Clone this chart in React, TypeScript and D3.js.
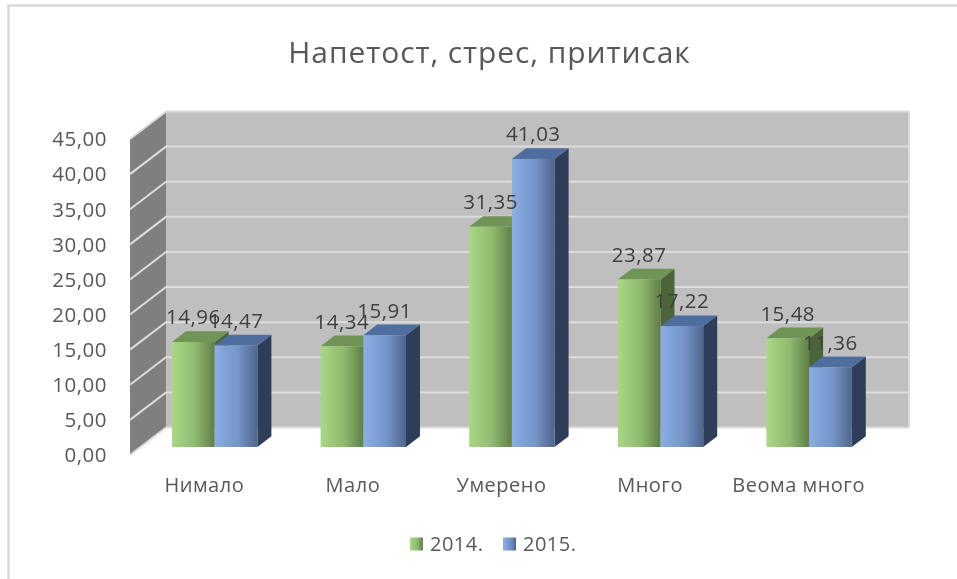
import React from "react";
import * as d3 from "d3";

const title = "Напетост, стрес, притисак";
const categories = ["Нимало", "Мало", "Умерено", "Много", "Веома много"];
const seriesNames = ["2014.", "2015."];
const values2014 = [14.96, 14.34, 31.35, 23.87, 15.48];
const values2015 = [14.47, 15.91, 41.03, 17.22, 11.36];
const yTicks = [0, 5, 10, 15, 20, 25, 30, 35, 40, 45];

const W = 957, H = 579;
const frontLeft = 130, frontRight = 873, frontBase = 455, frontTop = 139;
const wallDx = 36, wallDy = 27.5;
const barDx = 10.4, barDy = 8;
const depthDx = 14, depthDy = 10.7;
const FONT = "'Open Sans', 'Noto Sans', sans-serif";

const fmt = (v: number) => v.toFixed(2).replace(".", ",");
const line = d3.line<[number, number]>();
const poly = (pts: [number, number][]) => line(pts) + "Z";

const palette = [
  { id: "g", a: "#a9d884", b: "#5f7f47", top: "#6f9455", side: "#4b6539" },
  { id: "b", a: "#8aaee6", b: "#4e658f", top: "#4f6d9e", side: "#2f3e59" },
];

export default function App() {
  const x0 = d3.scaleBand<string>().domain(categories).range([frontLeft, frontRight]);
  const x1 = d3.scaleBand<string>().domain(seriesNames).range([0, x0.bandwidth()]).paddingInner(0).paddingOuter(0.74);
  const h = d3.scaleLinear().domain([0, 45]).range([0, frontBase - frontTop]);
  const series = [values2014, values2015];
  const bw = x1.bandwidth();
  const wallL = frontLeft + wallDx, wallR = frontRight + wallDx;
  const wallBase = frontBase - wallDy;
  const base = frontBase - barDy;

  return (
    <svg width={W} height={H} viewBox={`0 0 ${W} ${H}`} style={{ position: "absolute", left: 0, top: 0, display: "block", background: "#fff" }} fontFamily={FONT}>
      <defs>
        {palette.map((p) => (
          <linearGradient key={p.id} id={`grad-${p.id}`} x1="0" x2="1" y1="0" y2="0">
            <stop offset="0" stopColor={p.a} />
            <stop offset="0.55" stopColor={d3.interpolateRgb(p.a, p.b)(0.35)} />
            <stop offset="1" stopColor={p.b} />
          </linearGradient>
        ))}
        <filter id="soft" x="-2%" y="-2%" width="104%" height="104%">
          <feGaussianBlur stdDeviation="0.4" />
        </filter>
      </defs>
      <g filter="url(#soft)">
        <path d={`M8.5,579V5.5H957`} fill="none" stroke="#d9d9d9" strokeWidth={2.5} />
        <text x={489.5} y={52} dy="0.36em" textAnchor="middle" fontSize={30} fill="#595959" letterSpacing={0.9}>{title}</text>

        <rect x={wallL} y={frontTop - wallDy} width={wallR - wallL} height={frontBase - frontTop} fill="#bfbfbf" />
        <path d={poly([[frontLeft, frontTop], [wallL, frontTop - wallDy], [wallL, wallBase], [frontLeft, frontBase]])} fill="#7f7f7f" />
        {yTicks.map((t) => {
          const yf = frontBase - h(t);
          const yb = yf - wallDy;
          return (
            <g key={t}>
              <path d={`M${frontLeft},${yf}L${wallL},${yb}H${wallR}`} fill="none" stroke="#dcdcdc" strokeWidth={2} />
              <text x={107} y={yf} dy="0.36em" textAnchor="end" fontSize={20.5} letterSpacing={0.5} fill="#595959">{fmt(t)}</text>
            </g>
          );
        })}
        <path d={`M${wallR},${frontTop - wallDy}V${wallBase}`} stroke="#dcdcdc" strokeWidth={2} />

        {categories.map((c, i) => (
          <g key={c}>
            {seriesNames.map((s, si) => {
              const p = palette[si];
              const xl = x0(c)! + x1(s)! + barDx;
              const xr = xl + bw;
              const yt = base - h(series[si][i]);
              return (
                <g key={s}>
                  <path d={poly([[xr, yt], [xr + depthDx, yt - depthDy], [xr + depthDx, base - depthDy], [xr, base]])} fill={p.side} />
                  <path d={poly([[xl, yt], [xl + depthDx, yt - depthDy], [xr + depthDx, yt - depthDy], [xr, yt]])} fill={p.top} />
                  <rect x={xl} y={yt} width={bw} height={base - yt} fill={`url(#grad-${p.id})`} />
                </g>
              );
            })}
          </g>
        ))}

        {categories.map((c, i) =>
          seriesNames.map((s, si) => {
            const xc = x0(c)! + x1(s)! + barDx + bw / 2;
            const yt = base - h(series[si][i]);
            return (
              <text key={c + s} x={xc} y={yt - 25} dy="0.36em" textAnchor="middle" fontSize={20.5} letterSpacing={0.5} fill="#404040">{fmt(series[si][i])}</text>
            );
          })
        )}

        {categories.map((c) => (
          <text key={c} x={x0(c)! + x0.bandwidth() / 2} y={485} dy="0.36em" textAnchor="middle" fontSize={20} letterSpacing={0.5} fill="#595959">{c}</text>
        ))}

        {seriesNames.map((s, si) => {
          const p = palette[si];
          const lx = 410 + si * 93;
          return (
            <g key={s}>
              <rect x={lx} y={537.5} width={13} height={13} fill={`url(#grad-${p.id})`} />
              <text x={lx + 20} y={544} dy="0.36em" fontSize={20} letterSpacing={0.5} fill="#595959">{s}</text>
            </g>
          );
        })}
      </g>
    </svg>
  );
}
